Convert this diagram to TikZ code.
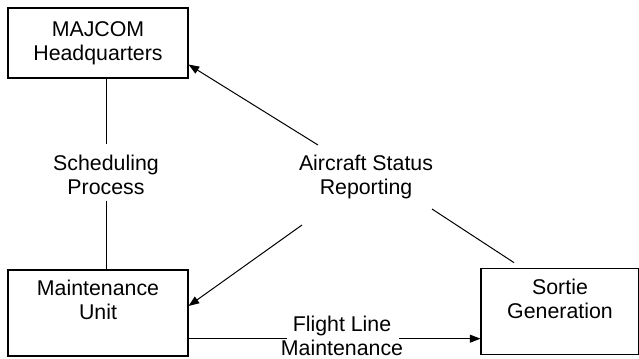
\documentclass[tikz,border=0pt]{standalone}
\usepackage{fontspec}
\setmainfont{Liberation Sans}
\usetikzlibrary{arrows.meta}

\begin{document}
\begin{tikzpicture}[x=0.75pt, y=-0.75pt,
          every node/.style={font=\fontsize{16}{18.2}\selectfont},
          box/.style={draw, line width=0.8pt, align=center, inner sep=0pt,
                      minimum width=135pt, minimum height=52.5pt},
          lbl/.style={align=center, inner sep=0pt},
          lnk/.style={line width=0.75pt},
          arr/.style={-{Triangle[length=8pt,width=6pt]}, line width=0.75pt}
        ]
          \useasboundingbox (0,0) rectangle (639,358);
          \node[box] (hq) at (98,43) {MAJCOM\\Headquarters};
          \node[box, minimum height=64.5pt, text depth=19.5pt] (maint) at (98,313) {Maintenance\\Unit};
          \node[box, minimum width=118.5pt, minimum height=65pt, text depth=19.5pt] (sortie) at (560,311.5) {Sortie\\Generation};
          \node[lbl] (sched) at (106,175) {Scheduling\\Process};
          \node[lbl] (status) at (366,177) {Aircraft Status\\Reporting};
          \node[lbl] (flight) at (342,336) {Flight Line\\Maintenance};
          % free ends of the status lines
          \coordinate (s-hq) at (318,145);
          \coordinate (s-mu) at (302,225);
          \coordinate (s-sg) at (432,209);
          \draw[lnk] (sched |- hq.south) -- ([yshift=8pt]sched.north);
          \draw[lnk] ([yshift=-4pt]sched.south) -- (sched |- maint.north);
          \draw[arr] (s-hq) -- ([yshift=10.5pt]hq.south east);
          \draw[arr] (s-mu) -- ([yshift=5.25pt]maint.east);
          \draw[lnk] (s-sg) -- ([xshift=-34.5pt,yshift=3.75pt]sortie.north);
          \draw[lnk] ([yshift=-2pt]flight.west -| maint.east) -- ([xshift=4.5pt,yshift=-2pt]flight.west);
          \draw[arr] ([xshift=-3pt,yshift=-2pt]flight.east) -- ([yshift=-2pt]flight.east -| sortie.west);
        \end{tikzpicture}
\end{document}
